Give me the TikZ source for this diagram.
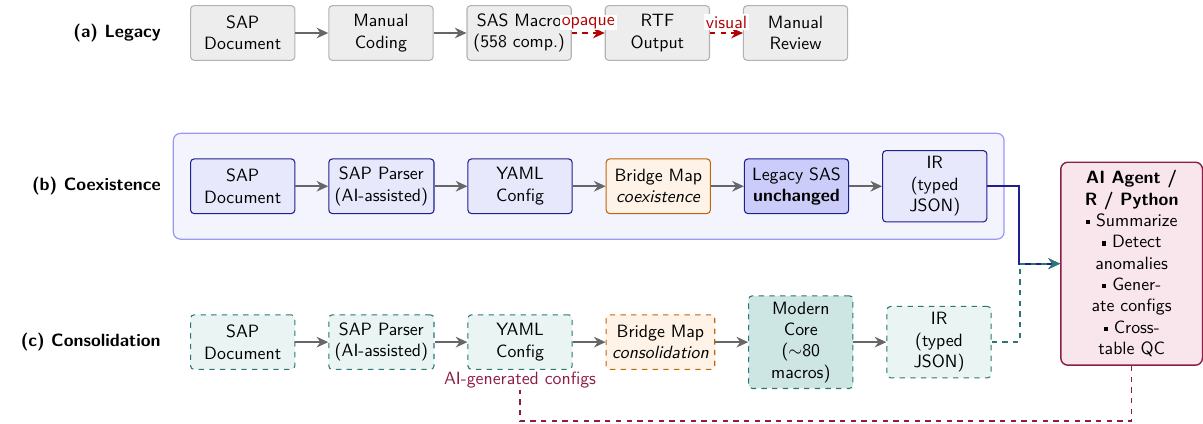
\documentclass[tikz,border=0pt]{standalone}
\usepackage{tikz}
\usetikzlibrary{arrows.meta,positioning,fit,backgrounds}
\definecolor{coxline}{HTML}{1F1F8F}
\definecolor{coxfill}{HTML}{E8E8FC}
\definecolor{coxdeep}{HTML}{CCCCFA}
\definecolor{frmline}{HTML}{9A9AF5}
\definecolor{frmfill}{HTML}{F4F4FE}
\definecolor{conline}{HTML}{2A7873}
\definecolor{confill}{HTML}{E9F4F3}
\definecolor{condeep}{HTML}{CDE5E3}
\definecolor{brline}{HTML}{C0650A}
\definecolor{brfill}{HTML}{FEF3E6}
\definecolor{ailine}{HTML}{8B1E45}
\definecolor{aifill}{HTML}{F8E6EC}
\definecolor{optred}{HTML}{B30000}
\tikzset{
    box/.style={draw, rounded corners=2pt, align=center, minimum width=2.06cm,
      minimum height=1.08cm, line width=0.6pt, font=\sffamily},
    legbox/.style={box, draw=black!30, fill=black!7},
    coxbox/.style={box, draw=coxline, fill=coxfill},
    conbox/.style={box, dashed, draw=conline, fill=confill},
    flow/.style={-{Stealth[length=2.3mm,width=2.1mm]}, line width=1pt, black!60},
    rowlabel/.style={anchor=east, font=\sffamily\bfseries},
  }
\newcommand{\sq}{\rule[0.3ex]{0.55ex}{0.55ex}\ }
\begin{document}
\begin{tikzpicture}
				  \useasboundingbox (0,0) rectangle (23.77,-8.36);
				  %(a) legacy
				  \node[rowlabel] (lbla) at (3.3,-0.652) {(a) Legacy};
				  \node[legbox, anchor=west] (sapa) at (3.755,-0.652) {SAP\\Document};
				  \node[legbox, right=0.65cm of sapa] (codea) {Manual\\Coding};
				  \node[legbox, right=0.65cm of codea] (sasa) {SAS Macro\\(558 comp.)};
				  \node[legbox, right=0.65cm of sasa] (rtfa) {RTF\\Output};
				  \node[legbox, right=0.65cm of rtfa] (reva) {Manual\\Review};
				  \draw[flow] (sapa) -- (codea);
				  \draw[flow] (codea) -- (sasa);
				  \draw[flow, optred, dashed] (sasa) -- node[above=1pt, fill=white, inner sep=1pt, font=\sffamily] {opaque} (rtfa);
				  \draw[flow, optred, dashed] (rtfa) -- node[above=1pt, fill=white, inner sep=1pt, font=\sffamily] {visual} (reva);
				  
				  %(b) coexistence
				  \node[rowlabel] (lblb) at (3.3,-3.68) {(b) Coexistence};
				  \node[coxbox, anchor=west] (sapb) at (3.755,-3.68) {SAP\\Document};
				  \node[coxbox, right=0.65cm of sapb] (parb) {SAP Parser\\(AI-assisted)};
				  \node[coxbox, right=0.65cm of parb] (yamlb) {YAML\\Config};
				  \node[box, draw=brline, fill=brfill, right=0.65cm of yamlb] (bridgeb) {Bridge Map\\\textit{coexistence}};
				  \node[coxbox, fill=coxdeep, right=0.65cm of bridgeb] (sasb) {Legacy SAS\\\textbf{unchanged}};
				  \node[coxbox, right=0.65cm of sasb] (irb) {IR\\(typed\\JSON)};
				  \begin{scope}[on background layer]
				  \node[fit=(sapb)(irb), inner sep=0.33cm, draw=frmline, fill=frmfill, rounded corners=4pt, line width=0.7pt] (frmb) {};
				  \end{scope}
				  \draw[flow] (sapb) -- (parb);
				  \draw[flow] (parb) -- (yamlb);
				  \draw[flow] (yamlb) -- (bridgeb);
				  \draw[flow] (bridgeb) -- (sasb);
				  \draw[flow] (sasb) -- (irb);
				  
				  %(c) consolidation
				  \node[rowlabel] (lblc) at (3.3,-6.76) {(c) Consolidation};
				  \node[conbox, anchor=west] (sapc) at (3.755,-6.76) {SAP\\Document};
				  \node[conbox, right=0.65cm of sapc] (parc) {SAP Parser\\(AI-assisted)};
				  \node[conbox, right=0.65cm of parc] (yamlc) {YAML\\Config};
				  \node[box, dashed, draw=brline, fill=brfill, right=0.65cm of yamlc] (bridgec) {Bridge Map\\\textit{consolidation}};
				  \node[conbox, fill=condeep, right=0.65cm of bridgec] (corec) {Modern\\Core\\($\sim$80\\macros)};
				  \node[conbox, right=0.65cm of corec] (irc) {IR\\(typed\\JSON)};
				  \node[below=0pt of yamlc, inner sep=1pt, font=\sffamily, text=ailine] (gencfg) {AI-generated configs};
				  \draw[flow] (sapc) -- (parc);
				  \draw[flow] (parc) -- (yamlc);
				  \draw[flow] (yamlc) -- (bridgec);
				  \draw[flow] (bridgec) -- (corec);
				  \draw[flow] (corec) -- (irc);
				  
				  %agent
				  \node[box, draw=ailine, fill=aifill, minimum width=2.8cm, minimum height=4.01cm, rounded corners=4pt, line width=0.8pt] (ai) at (22.36,-5.21)
				  {\textbf{AI Agent /}\\\textbf{R / Python}\\\sq Summarize\\\sq Detect\\anomalies\\\sq Gener-\\ate configs\\\sq Cross-\\table QC};
				  \draw[flow, coxline] (irb.east) -- ++(0.63,0) |- (ai.west);
				  \draw[flow, conline, dashed, line width=1.1pt] (irc.east) -- ++(0.55,0) |- (ai.west);
				  \draw[ailine, dashed, line width=0.9pt] (ai.south) -- ++(0,-1.09) -| (gencfg.south);
				  \end{tikzpicture}
\end{document}
